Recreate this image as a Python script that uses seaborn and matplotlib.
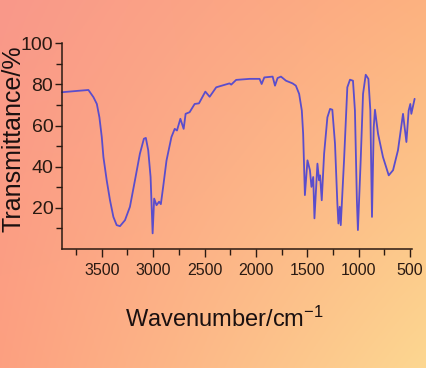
import numpy as np
import pandas as pd
import matplotlib.pyplot as plt
import seaborn as sns

# IR spectrum (wavenumber in cm-1, transmittance in %)
wavenumber = [3888, 3750, 3630, 3581, 3548, 3523, 3500, 3484, 3452, 3420,
              3387, 3355, 3323, 3274, 3226, 3177, 3129, 3090, 3071, 3048,
              3025, 3005, 2990, 2967, 2942, 2925, 2903, 2870, 2822, 2790,
              2768, 2735, 2703, 2684, 2645, 2596, 2554, 2492, 2450, 2386,
              2257, 2240, 2192, 2061, 1964, 1944, 1918, 1837, 1814, 1789,
              1756, 1707, 1643, 1611, 1579, 1553, 1540, 1523, 1498, 1474,
              1459, 1442, 1430, 1401, 1385, 1375, 1359, 1336, 1304, 1278,
              1256, 1230, 1207, 1197, 1184, 1174, 1142, 1110, 1084, 1055,
              1036, 1017, 1007, 980, 957, 931, 905, 886, 870, 853,
              841, 811, 763, 707, 665, 617, 568, 535, 513, 497,
              487, 455]
transmittance = [76.2, 76.8, 77.3, 73.8, 70.5, 64.0, 54.4, 44.7, 33.4, 23.7,
                 15.6, 11.6, 11.1, 14.0, 20.5, 33.4, 46.3, 53.6, 54.0, 48.0,
                 35.0, 7.6, 24.5, 21.3, 23.0, 21.8, 30.0, 43.0, 54.4, 58.4,
                 57.6, 63.3, 58.4, 65.7, 66.5, 70.5, 70.8, 76.5, 74.0, 78.6,
                 80.5, 79.9, 82.2, 82.7, 82.7, 80.2, 83.4, 83.8, 79.4, 83.1,
                 83.8, 81.8, 80.5, 79.4, 75.4, 67.3, 56.0, 26.2, 43.1, 38.3,
                 30.2, 35.0, 14.9, 41.5, 33.4, 35.8, 23.7, 46.3, 64.0, 68.1,
                 67.7, 51.2, 22.1, 12.4, 20.5, 11.6, 43.1, 78.6, 82.3, 81.8,
                 67.3, 23.7, 9.2, 43.1, 75.4, 84.7, 82.7, 67.3, 15.6, 59.2,
                 67.7, 56.0, 44.7, 35.8, 38.3, 48.0, 65.7, 52.0, 67.3, 70.5,
                 65.7, 73.0]
x_ticks = [3500, 3000, 2500, 2000, 1500, 1000, 500]
y_ticks = [20, 40, 60, 80, 100]

df = pd.DataFrame({'wn': wavenumber, 'T': transmittance})

sns.set_style('white')
plt.rcParams['font.family'] = ['Liberation Sans', 'DejaVu Sans']
plt.rcParams['mathtext.fontset'] = 'custom'
plt.rcParams['mathtext.rm'] = 'Liberation Sans'
plt.rcParams['mathtext.it'] = 'Liberation Sans'

fig = plt.figure(figsize=(4.27, 3.68), dpi=100)

# gradient background
bg = fig.add_axes([0, 0, 1, 1], zorder=-1)
c_tl = np.array([249, 152, 138]) / 255
c_tr = np.array([253, 178, 128]) / 255
c_bl = np.array([253, 160, 128]) / 255
c_br = np.array([253, 215, 145]) / 255
u = np.linspace(0, 1, 200)[None, :, None]
v = np.linspace(0, 1, 200)[:, None, None]
img = (1 - u) * (1 - v) * c_tl + u * (1 - v) * c_tr + (1 - u) * v * c_bl + u * v * c_br
bg.imshow(np.clip(img, 0, 1), aspect='auto', extent=[0, 1, 0, 1])
bg.axis('off')

ax = fig.add_axes([0.1445, 0.3234, 0.8205, 0.559])
ax.patch.set_alpha(0)
sns.lineplot(data=df, x='wn', y='T', sort=False, color='#5a4dcc', linewidth=1.3, ax=ax)
for l in ax.lines:
    l.set_clip_on(False)
    l.set_solid_joinstyle('round')

ax.set_xlim(3890, 480)
ax.set_ylim(0, 100)
ax.set_xticks(x_ticks)
ax.set_xticks(np.arange(3750, 480, -500), minor=True)
ax.set_yticks(y_ticks)
ax.set_yticks([10, 30, 50, 70, 90], minor=True)
ax.tick_params(axis='x', which='major', length=6, width=1, direction='out', labelsize=11.5, colors='#2a1a12', pad=4, bottom=True)
ax.tick_params(axis='x', which='minor', length=4, width=1, direction='out', bottom=True, colors='#2a1a12')
ax.tick_params(axis='y', which='major', length=5, width=1, direction='out', labelsize=14, colors='#2a1a12', pad=1, left=True)
ax.tick_params(axis='y', which='minor', length=4, width=1, direction='out', left=True, colors='#2a1a12')
for s in ['top', 'right']:
    ax.spines[s].set_visible(False)
for s in ['left', 'bottom']:
    ax.spines[s].set_color('#2a1a12')
    ax.spines[s].set_linewidth(1.1)

ax.set_xlabel('Wavenumber/cm$^{-1}$', fontsize=17, color='#1a1010')
ax.xaxis.set_label_coords(0.463, -0.28)
ax.set_ylabel('Transmittance/%', fontsize=18, color='#1a1010')
ax.yaxis.set_label_coords(-0.104, 0.535)

fig.savefig('out.png', dpi=100)
